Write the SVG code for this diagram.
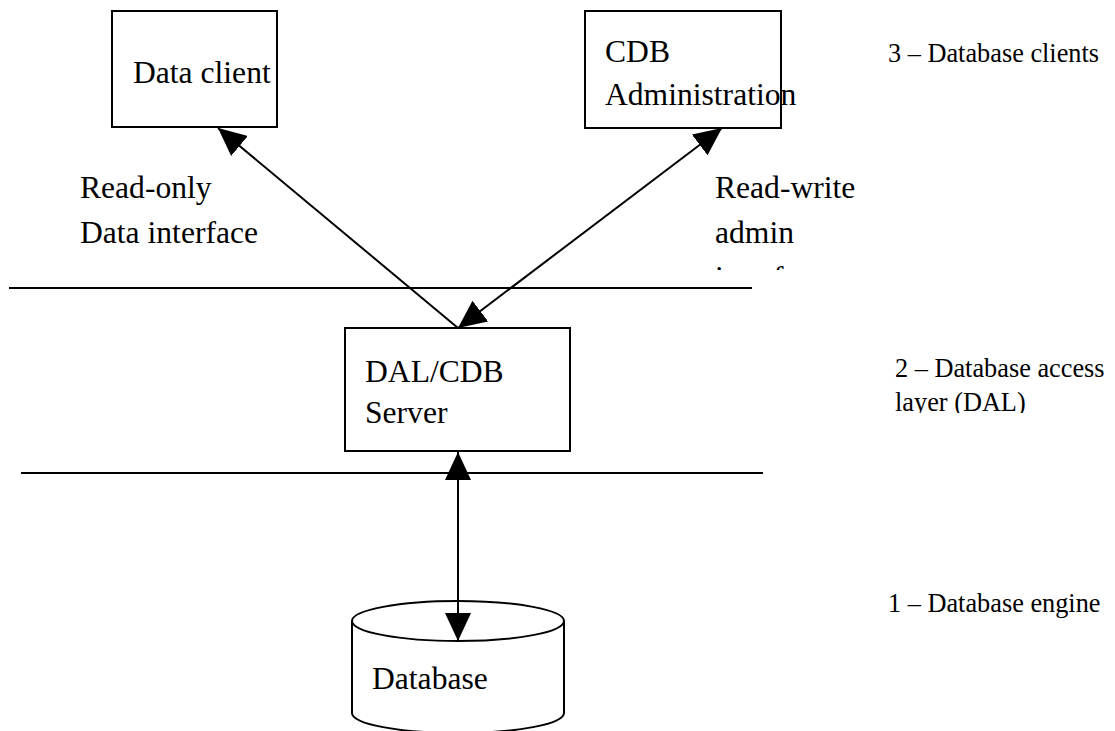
<svg xmlns="http://www.w3.org/2000/svg" width="1115" height="731" viewBox="0 0 1115 731">
<style>
.box{fill:#fff;stroke:#000;stroke-width:2}
.ln{stroke:#000;stroke-width:2;fill:none}
.big{font-family:'Liberation Serif',serif;font-size:31.6px}
.small{font-family:'Liberation Serif',serif;font-size:26.3px}
</style>
<defs>
<marker id="ah" viewBox="0 0 28 26" refX="28" refY="13" markerWidth="28" markerHeight="26" markerUnits="userSpaceOnUse" orient="auto-start-reverse">
<path d="M0,0 L28,13 L0,26 Z" fill="#000"/>
</marker>
<clipPath id="c1"><rect x="700" y="150" width="200" height="120"/></clipPath>
<clipPath id="c2"><rect x="880" y="340" width="235" height="73"/></clipPath>
</defs>
<rect width="1115" height="731" fill="#fff"/>
<g id="layers">
<line class="ln" x1="9" y1="288" x2="752" y2="288"/>
<line class="ln" x1="21" y1="473" x2="763" y2="473"/>
</g>
<g id="data-client">
<rect class="box" x="112" y="11" width="165" height="116"/>
<text class="big" x="133" y="83">Data client</text>
</g>
<g id="cdb-admin">
<rect class="box" x="585" y="11" width="196" height="117"/>
<text class="big" x="605" y="62">CDB</text>
<text class="big" x="605" y="105">Administration</text>
</g>
<g id="dal-server">
<rect class="box" x="345" y="328" width="225" height="123"/>
<text class="big" x="365" y="382">DAL/CDB</text>
<text class="big" x="365" y="423">Server</text>
</g>
<g id="database">
<path class="box" d="M352,621 L352,713 A106,20 0 0 0 564,713 L564,621"/>
<ellipse class="box" cx="458" cy="621" rx="106" ry="20"/>
<text class="big" x="372" y="689">Database</text>
</g>
<g id="labels">
<text class="big" x="80" y="198">Read-only</text>
<text class="big" x="80" y="243">Data interface</text>
<g clip-path="url(#c1)">
<text class="big" x="715" y="198">Read-write</text>
<text class="big" x="715" y="243">admin</text>
<text class="big" x="715" y="288">interface</text>
</g>
<text class="small" x="888" y="62">3 – Database clients</text>
<g clip-path="url(#c2)">
<text class="small" x="895" y="377">2 – Database access</text>
<text class="small" x="895" y="411">layer (DAL)</text>
</g>
<text class="small" x="888" y="612">1 – Database engine</text>
</g>
<g id="connectors">
<line class="ln" x1="458" y1="328" x2="218" y2="128" marker-end="url(#ah)"/>
<line class="ln" x1="722" y1="128" x2="458" y2="328" marker-start="url(#ah)" marker-end="url(#ah)"/>
<line class="ln" x1="458" y1="452" x2="458" y2="641" marker-start="url(#ah)" marker-end="url(#ah)"/>
</g>
</svg>
